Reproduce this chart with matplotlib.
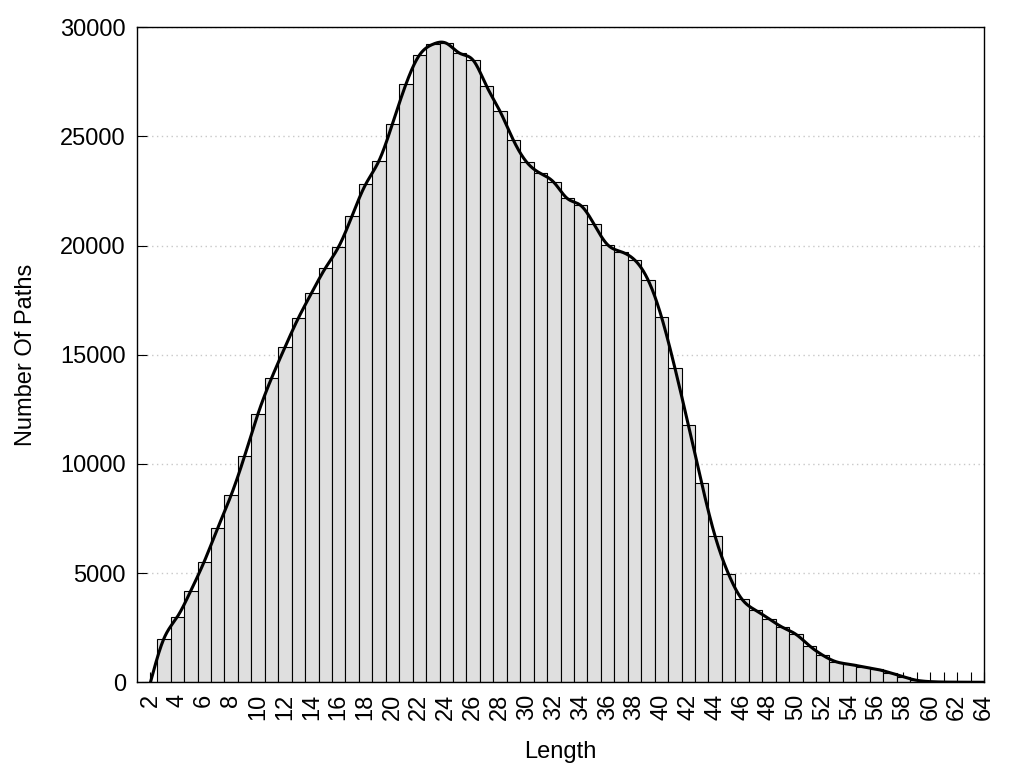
import numpy as np
import matplotlib
matplotlib.use('Agg')
import matplotlib.pyplot as plt

# path lengths and how many paths have each length
lengths = list(range(2, 65))
counts = [0, 2000, 3000, 4190, 5530, 7060, 8570, 10360, 12300, 13920,
          15340, 16680, 17850, 18960, 19950, 21370, 22800, 23890, 25580, 27390,
          28720, 29220, 29270, 28810, 28490, 27300, 26150, 24820, 23810, 23310,
          22900, 22160, 21840, 20970, 20040, 19720, 19350, 18440, 16750, 14410,
          11800, 9110, 6680, 4950, 3800, 3300, 2910, 2520, 2200, 1680,
          1240, 940, 820, 710, 600, 440, 250, 90, 30, 10,
          5, 2, 0]


def natural_spline(x, y, n=2000):
    '''
    Natural cubic spline through the points (like gnuplot smooth csplines)
    '''
    x = np.asarray(x, float)
    y = np.asarray(y, float)
    k = len(x)
    h = np.diff(x)
    A = np.zeros((k, k))
    b = np.zeros(k)
    A[0, 0] = 1
    A[-1, -1] = 1
    for i in range(1, k - 1):
        A[i, i - 1] = h[i - 1]
        A[i, i] = 2 * (h[i - 1] + h[i])
        A[i, i + 1] = h[i]
        b[i] = 6 * ((y[i + 1] - y[i]) / h[i] - (y[i] - y[i - 1]) / h[i - 1])
    m = np.linalg.solve(A, b)
    xs = np.linspace(x[0], x[-1], n)
    idx = np.clip(np.searchsorted(x, xs) - 1, 0, k - 2)
    x0, x1 = x[idx], x[idx + 1]
    hh = x1 - x0
    t0 = x1 - xs
    t1 = xs - x0
    ys = (m[idx] * t0 ** 3 / (6 * hh) + m[idx + 1] * t1 ** 3 / (6 * hh)
          + (y[idx] / hh - m[idx] * hh / 6) * t0
          + (y[idx + 1] / hh - m[idx + 1] * hh / 6) * t1)
    return xs, ys


plt.rcParams['font.family'] = ['Liberation Sans', 'DejaVu Sans']
plt.rcParams['font.size'] = 17

fig = plt.figure(figsize=(10.24, 7.68), dpi=100)
ax = fig.add_axes([0.1338, 0.1116, 0.8272, 0.8529])
ax.set_axisbelow(True)

ax.bar(lengths, counts, width=1.0, color='#dfdfdf', edgecolor='black',
       linewidth=0.8, zorder=1)
xs, ys = natural_spline(lengths, counts)
ax.plot(xs, ys, color='black', linewidth=2.2, zorder=3)

ax.set_xlim(1, 64)
ax.set_ylim(0, 30000)
ax.set_yticks(range(0, 30001, 5000))
ax.set_xticks(range(2, 65))
ax.set_xticklabels([str(v) if v % 2 == 0 else '' for v in range(2, 65)],
                   rotation=90)
ax.yaxis.grid(True, color='#c8c8c8', linestyle=(0, (1, 2.5)), linewidth=1)
ax.tick_params(direction='in', length=7.5, width=0.8, pad=8, labelsize=17,
               top=False, right=False)
for s in ax.spines.values():
    s.set_linewidth(1.0)
    s.set_zorder(4)

ax.set_xlabel('Length', fontsize=17, labelpad=15)
ax.set_ylabel('Number Of Paths', fontsize=17, labelpad=17)

fig.savefig('out.png', dpi=100)
